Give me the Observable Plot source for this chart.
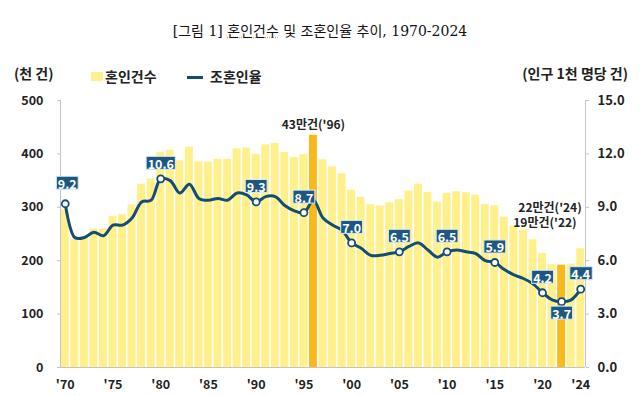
<!DOCTYPE html>
<html>
<head>
<meta charset="utf-8">
<script src="https://cdn.jsdelivr.net/npm/d3@7"></script>
<script src="https://cdn.jsdelivr.net/npm/@observablehq/plot@0.6"></script>
<style>
  body { margin: 0; background: #fff; font-family: "Noto Sans CJK KR", sans-serif; }
  #wrap { position: relative; width: 640px; height: 396px; overflow: hidden; background: #fff; }
  #title { position: absolute; top: 21px; left: 0; width: 640px; text-align: center; font-family: "DejaVu Serif", "Noto Sans CJK KR", serif; font-size: 14px; color: #111; line-height: 20px; }
  #title .u { text-decoration: underline dotted #e8a060; }
  .unit { position: absolute; top: 63px; font-size: 14px; font-weight: 700; color: #222; line-height: 20px; }
  .leg { position: absolute; top: 66px; font-size: 14px; font-weight: 700; color: #222; line-height: 20px; }
  .sw { position: absolute; }
  #chart { position: absolute; top: 88px; left: 0; }
</style>
</head>
<body>
<div id="wrap">
  <div id="title">[그림 1] <span class="u">혼인건수</span> 및 조혼인율 추이, 1970-2024</div>
  <div class="unit" style="left:14px">(천 건)</div>
  <div class="unit" style="right:12px">(인구 1천 명당 건)</div>
  <div class="sw" style="left:91px;top:72px;width:12px;height:9px;background:#FFF08C"></div>
  <div class="leg" style="left:105px">혼인건수</div>
  <div class="sw" style="left:187px;top:76px;width:16px;height:3px;background:#134D76"></div>
  <div class="leg" style="left:210px">조혼인율</div>
  <div id="chart"></div>
</div>
<script>
// ---- data ----
const years = [1970,1971,1972,1973,1974,1975,1976,1977,1978,1979,
  1980,1981,1982,1983,1984,1985,1986,1987,1988,1989,
  1990,1991,1992,1993,1994,1995,1996,1997,1998,1999,
  2000,2001,2002,2003,2004,2005,2006,2007,2008,2009,
  2010,2011,2012,2013,2014,2015,2016,2017,2018,2019,
  2020,2021,2022,2023,2024];
// marriages (thousand)
const marriages = [295.1,239.5,244.8,259.1,259.6,283.2,286.1,304.5,343.2,353.2,
  403.0,406.8,387.0,412.8,385.1,384.6,390.0,390.0,409.4,411.0,
  399.3,416.9,419.8,402.6,393.1,398.5,434.9,389.0,375.6,362.7,
  332.1,318.4,304.9,302.5,308.6,314.3,330.6,343.6,327.7,309.8,
  326.1,329.1,327.1,322.8,305.5,302.8,281.6,264.5,257.6,239.2,
  213.5,192.5,191.7,193.7,222.4];
// crude marriage rate (per 1,000 population)
const rates = [9.2,7.3,7.3,7.6,7.4,8.0,8.0,8.4,9.3,9.4,
  10.6,10.5,9.8,10.3,9.5,9.4,9.5,9.4,9.8,9.7,
  9.3,9.6,9.6,9.1,8.8,8.7,9.4,8.4,8.0,7.7,
  7.0,6.7,6.3,6.3,6.4,6.5,6.8,7.0,6.6,6.2,
  6.5,6.6,6.5,6.4,6.0,5.9,5.5,5.2,5.0,4.7,
  4.2,3.8,3.7,3.8,4.4];
const highlightYears = [1996, 2022];
const labeledYears = [1970,1980,1990,1995,2000,2005,2010,2015,2020,2022,2024];
const xTickYears = [1970,1975,1980,1985,1990,1995,2000,2005,2010,2015,2020,2024];
const leftTicks = [0,100,200,300,400,500];
const rightTicks = [0,3,6,9,12,15];
const annYears = [1996, 2024, 2022];
const annTexts = ["43만건('96)", "22만건('24)", "19만건('22)"];

// ---- style ----
const RMAX = 15, CMAX = 500;
const toY = r => r * CMAX / RMAX;
const BAR = "#FFF08C", HI = "#FBB81C", LINE = "#134D76", BOX = "#1D5782";

const rows = years.map((y, i) => ({year: y, count: marriages[i], rate: rates[i]}));
const labeled = rows.filter(d => labeledYears.includes(d.year));
const above = labeled.filter(d => d.year !== 1970 && d.year !== 2022);
const ann = annYears.map((y, i) => ({year: y, text: annTexts[i], count: rows.find(d => d.year === y).count}));

const labelOpts = {x: "year", y: d => toY(d.rate), text: d => d.rate.toFixed(1),
  fill: "white", fontSize: 12.5, fontWeight: "bold"};

const chart = Plot.plot({
  width: 640,
  height: 308,
  marginTop: 12,
  marginBottom: 29,
  marginLeft: 60,
  marginRight: 55,
  style: {fontFamily: "'Noto Sans CJK KR', sans-serif", background: "transparent"},
  x: {domain: [1969.5, 2024.5], axis: null, label: null},
  y: {domain: [0, CMAX], axis: null, label: null},
  marks: [
    Plot.rectY(rows, {x1: d => d.year - 0.5, x2: d => d.year + 0.5, y: "count",
      fill: d => highlightYears.includes(d.year) ? HI : BAR, insetLeft: 0.8, insetRight: 0.8}),
    Plot.ruleX([1969.5, 2024.5], {stroke: "#c4c4c4", strokeWidth: 1}),
    Plot.ruleY([0], {stroke: "#c4c4c4", strokeWidth: 1}),
    Plot.axisY(leftTicks, {anchor: "left", label: null, tickSize: 3, tickPadding: 14, stroke: "#c4c4c4",
      fontSize: 12.5, fontWeight: "bold", fill: "#222", tickFormat: d => String(d)}),
    Plot.axisY(rightTicks.map(toY), {anchor: "right", label: null, tickSize: 3, tickPadding: 9, stroke: "#c4c4c4",
      fontSize: 13, fontWeight: "bold", fill: "#222", tickFormat: d => (d * RMAX / CMAX).toFixed(1)}),
    Plot.axisX(xTickYears, {anchor: "bottom", label: null, tickSize: 0, tickPadding: 13,
      fontSize: 12.5, fontWeight: "bold", fill: "#222", tickFormat: d => "'" + String(d).slice(2)}),
    Plot.line(rows, {x: "year", y: d => toY(d.rate), curve: "catmull-rom", stroke: LINE, strokeWidth: 3}),
    Plot.dot(labeled, {x: "year", y: d => toY(d.rate), r: 3.5, fill: "white", stroke: LINE, strokeWidth: 1.8}),
    Plot.text(above, {...labelOpts, dy: -14}),
    Plot.text(labeled.filter(d => d.year === 1970), {...labelOpts, dy: -19, dx: 2}),
    Plot.text(labeled.filter(d => d.year === 2022), {...labelOpts, dy: 13}),
    Plot.text(ann.slice(0, 1), {x: "year", y: "count", text: "text", dy: -10, fontSize: 12, fontWeight: 600, fill: "#222"}),
    Plot.text(ann.slice(1, 2), {x: "year", y: "count", text: "text", dy: -41, dx: 1, textAnchor: "end", fontSize: 12, fontWeight: 600, fill: "#222"}),
    Plot.text(ann.slice(2, 3), {x: "year", y: "count", text: "text", dy: -42, dx: 15, textAnchor: "end", fontSize: 12, fontWeight: 600, fill: "#222"})
  ]
});
document.getElementById("chart").appendChild(chart);

// boxes behind rate labels (the white text groups)
const labelTexts = [];
chart.querySelectorAll("g").forEach(g => {
  const f = (g.getAttribute("fill") || "").toLowerCase();
  if (f === "white" || f === "#ffffff" || f === "#fff") {
    g.querySelectorAll("text").forEach(t => labelTexts.push(t));
  }
});
labelTexts.forEach(t => {
  const bb = t.getBBox();
  const cy = bb.y + bb.height / 2 - 0.5;
  const h = 13;
  const r = document.createElementNS("http://www.w3.org/2000/svg", "rect");
  r.setAttribute("x", bb.x - 1.5);
  r.setAttribute("y", cy - h / 2);
  r.setAttribute("width", bb.width + 3);
  r.setAttribute("height", h);
  r.setAttribute("fill", BOX);
  r.setAttribute("stroke", "#d8ecf6");
  r.setAttribute("stroke-width", 1);
  const tr = t.getAttribute("transform");
  if (tr) r.setAttribute("transform", tr);
  t.parentNode.insertBefore(r, t);
});
</script>
</body>
</html>
